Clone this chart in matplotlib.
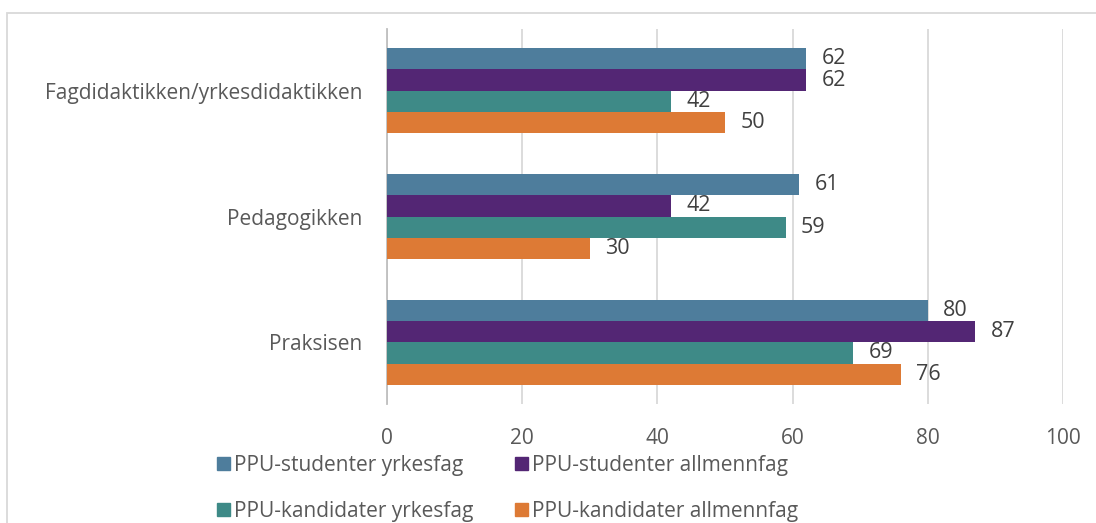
import matplotlib
matplotlib.use("Agg")
import matplotlib.pyplot as plt
from matplotlib.patches import Patch, Rectangle
import numpy as np

plt.rcParams['font.family'] = ['Open Sans', 'DejaVu Sans']

categories = ["Fagdidaktikken/yrkesdidaktikken", "Pedagogikken", "Praksisen"]
series_names = ["PPU-studenter yrkesfag", "PPU-studenter allmennfag",
                "PPU-kandidater yrkesfag", "PPU-kandidater allmennfag"]
studenter_yrkesfag = [62, 61, 80]
studenter_allmennfag = [62, 42, 87]
kandidater_yrkesfag = [42, 59, 69]
kandidater_allmennfag = [50, 30, 76]
x_ticks = [0, 20, 40, 60, 80, 100]

series = [studenter_yrkesfag, studenter_allmennfag, kandidater_yrkesfag, kandidater_allmennfag]
colors = ["#4E7D9C", "#532674", "#3E8A87", "#DD7A35"]

FS = 15

fig = plt.figure(figsize=(10.96, 5.23), dpi=100)
ax = fig.add_axes([387/1096, 1-404/523, (1063-387)/1096, (404-29)/523])

h = 0.169
y = np.arange(len(categories))
for j, (vals, c) in enumerate(zip(series, colors)):
    pos = y + (j - 1.5) * h
    ax.barh(pos, vals, height=h, color=c, zorder=3)
    for p, v in zip(pos, vals):
        ax.annotate(f"{v}", (v, p), xytext=(11, 0), textcoords="offset points",
                    va="center", ha="left", fontsize=15.5, color="#404040")

ax.set_xlim(0, 100)
ax.set_ylim(2.49, -0.49)
ax.set_xticks(x_ticks)
ax.set_yticks(y)
ax.set_yticklabels(categories)
ax.grid(axis="x", color="#D9D9D9", linewidth=1.3, zorder=0)
for s in ["top", "right", "bottom"]:
    ax.spines[s].set_visible(False)
ax.spines["left"].set_color("#BFBFBF")
ax.spines["left"].set_linewidth(1.3)
ax.tick_params(axis="both", length=0, labelsize=FS, colors="#595959")
ax.tick_params(axis="x", pad=17)
ax.tick_params(axis="y", pad=18)

handles = [Patch(color=c) for c in colors]
leg_kw = dict(frameon=False, fontsize=FS, handlelength=0.6, handleheight=0.6,
              handletextpad=0.2, labelspacing=1.2, labelcolor="#595959",
              borderpad=0, borderaxespad=0)
fig.legend([handles[0], handles[2]], [series_names[0], series_names[2]],
           loc="upper left", bbox_to_anchor=(217/1096, 1-455/523), **leg_kw)
fig.legend([handles[1], handles[3]], [series_names[1], series_names[3]],
           loc="upper left", bbox_to_anchor=(515/1096, 1-455/523), **leg_kw)

fig.patches.append(Rectangle((7/1096, -0.1), 1.2, 1 - 13/523 + 0.1,
                             transform=fig.transFigure, fill=False,
                             edgecolor="#D9D9D9", linewidth=1.3))

fig.savefig("out.png", dpi=100)
